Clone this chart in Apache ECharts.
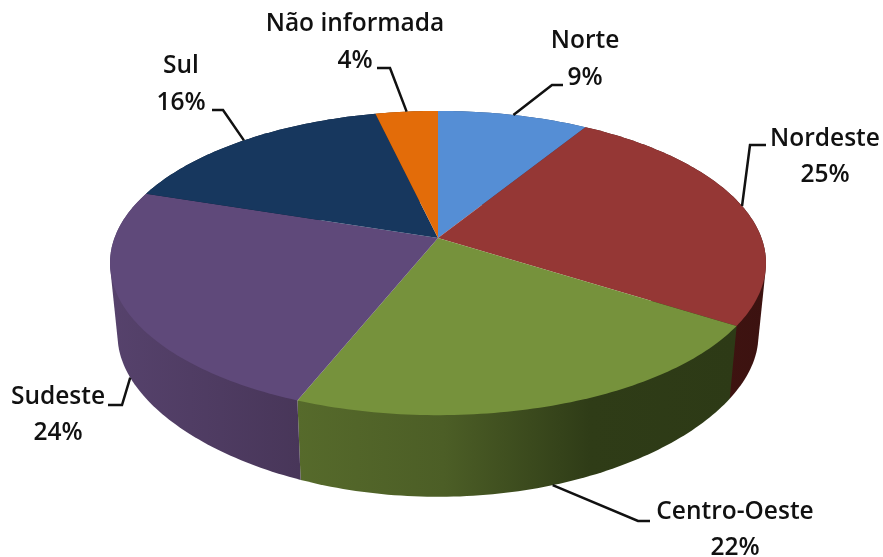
<!DOCTYPE html>
<html><head><meta charset="utf-8">
<style>html,body{margin:0;padding:0;background:#fff}#c{width:883px;height:557px}</style>
<script src="https://cdn.jsdelivr.net/npm/echarts@6/dist/echarts.min.js"></script>
</head><body><div id="c"></div>
<script>
const categories = ['Norte','Nordeste','Centro-Oeste','Sudeste','Sul','Não informada'];
const shares = [8.7,25.4,21.9,24.1,16.3,3.6];
const shareLabels = ['9%','25%','22%','24%','16%','4%'];
const topColors = ['#558ed5','#953735','#76923c','#5f497a','#17375e','#e36c09'];
const wallColors = [
  ['#2a4a75','#2a4a75'],['#451713','#3c1210'],
  ['#566a2b','#4c5e26','#2f3c17','#2d3a16'],['#56426c','#483659'],
  ['#0d2038','#0d2038'],['#7a3a05','#7a3a05']];

// perspective projection of the pie disc
const CX=438;
const TOP={a:323.5,b:148,y:238,kx:0.1646,ky:0.1646}, BOTTOM={a:316,b:138.6,y:312,kx:0.1646,ky:0.25};
const TOTAL=shares.reduce((a,b)=>a+b,0);
function project(rim,frac){
  const t=frac*2*Math.PI, u=Math.sin(t), v=-Math.cos(t);
  return [CX+rim.a*u/(1-rim.kx*v), rim.y+rim.b*v/(1-rim.ky*v)];
}
function cumulative(i){let s=0;for(let j=0;j<i;j++)s+=shares[j];return s/TOTAL;}
function arc(rim,f0,f1){
  const n=Math.max(2,Math.ceil((f1-f0)*360)),p=[];
  for(let i=0;i<=n;i++)p.push(project(rim,f0+(f1-f0)*i/n));
  return p;
}
function hull(points){
  const p=points.slice().sort((a,b)=>a[0]-b[0]||a[1]-b[1]);
  const cross=(o,a,b)=>(a[0]-o[0])*(b[1]-o[1])-(a[1]-o[1])*(b[0]-o[0]);
  const half=list=>{const h=[];for(const q of list){while(h.length>1&&cross(h[h.length-2],h[h.length-1],q)<=0)h.pop();h.push(q);}h.pop();return h;};
  return half(p).concat(half(p.slice().reverse()));
}
// label layout: text centres, leader elbows, which rim the leader meets
const labelPos=[[585,41],[825,139],[735,512],[58,397],[181,66],[355,24]];
const pctPos=[[585,78],[825,175],[735,548],[58,433],[181,103],[355,61]];
const elbows=[[[552,85],[563,85]],[[750,145],[766,145]],[[638,521],[650,521]],[[122,405],[108,405]],[[223,110],[212,110]],[[390,68],[377,68]]];
const leaderRim=[TOP,TOP,BOTTOM,BOTTOM,TOP,TOP];
const FONT='600 24.5px "Open Sans", Lato, sans-serif';

const seriesData=categories.map((n,i)=>({name:n,value:shares[i]}));
const chart=echarts.init(document.getElementById('c'),null,{renderer:'canvas'});
chart.setOption({
  animation:false,
  backgroundColor:'#fff',
  series:[
    {type:'custom',name:'wall',coordinateSystem:'none',silent:true,data:seriesData,
     renderItem(params){
      const i=params.dataIndex,f0=cumulative(i),f1=f0+shares[i]/TOTAL;
      const pts=hull(arc(TOP,f0,f1).concat(arc(BOTTOM,f0,f1)));
      const cs=wallColors[i];
      return {type:'polygon',shape:{points:pts},style:{
        fill:{type:'linear',x:0,y:0,x2:1,y2:0,colorStops:cs.map((c,k)=>({offset:k/(cs.length-1),color:c}))}}};
     }},
    {type:'custom',name:'top',coordinateSystem:'none',silent:true,data:seriesData,
     renderItem(params){
      const i=params.dataIndex,f0=cumulative(i),f1=f0+shares[i]/TOTAL;
      const pts=[[CX,TOP.y]].concat(arc(TOP,f0,f1));
      return {type:'polygon',shape:{points:pts},style:{fill:topColors[i]}};
     }},
    {type:'custom',name:'labels',coordinateSystem:'none',silent:true,data:seriesData,
     renderItem(params){
      const i=params.dataIndex,f=cumulative(i)+shares[i]/TOTAL/2;
      const a=project(leaderRim[i],f);
      const txt=(s,p)=>({type:'text',style:{text:s,x:p[0],y:p[1],align:'center',verticalAlign:'middle',font:FONT,fill:'#111'}});
      return {type:'group',children:[
        {type:'polyline',shape:{points:[a].concat(elbows[i])},style:{stroke:'#111',lineWidth:2.5,fill:null}},
        txt(categories[i],labelPos[i]),
        txt(shareLabels[i],pctPos[i])
      ]};
     }}
  ]
});
</script></body></html>
